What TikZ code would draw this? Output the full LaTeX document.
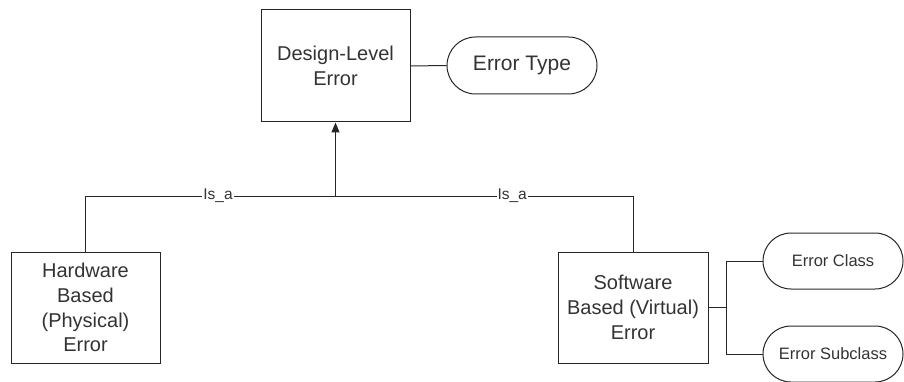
\documentclass[tikz,border=0pt]{standalone}
\usepackage{fontspec}
\setmainfont{Liberation Sans}
\usetikzlibrary{arrows.meta,shapes.misc}
\begin{document}
\begin{tikzpicture}[x=1pt,y=-1pt,
  line width=1pt, draw=black!85,
  box/.style={draw, rectangle, align=center, text=black!80, font=\fontsize{20}{24.7}\selectfont, inner sep=0pt},
  pill/.style={draw, rounded rectangle, align=center, text=black!80, inner sep=0pt},
  lbl/.style={fill=white, inner sep=1pt, text=black!80, font=\fontsize{15.5}{18}\selectfont}]
\useasboundingbox (0,0) rectangle (904,382);
\node[box, minimum width=149pt, minimum height=112pt] (dle) at (335.5,66) {Design-Level\\Error};
\node[pill, minimum width=150pt, minimum height=57pt, font=\fontsize{21}{24}\selectfont] (et) at (522,65.5) {Error Type};
\node[box, minimum width=149pt, minimum height=111pt] (hw) at (85.5,307.5) {Hardware\\Based\\(Physical)\\Error};
\node[box, minimum width=150pt, minimum height=111pt] (sw) at (633,307.5) {Software\\Based (Virtual)\\Error};
\node[pill, minimum width=140pt, minimum height=56pt, font=\fontsize{16.5}{20}\selectfont] (ec) at (833,261) {Error Class};
\node[pill, minimum width=140pt, minimum height=56pt, font=\fontsize{16.5}{20}\selectfont] (es) at (833,354) {Error Subclass};
\coordinate (j) at (335.5,196);
\coordinate (sj) at (726,307.5);
\draw (dle) -- (et);
\draw (hw.north) |- (j) node[lbl, pos=0.765] {Is\_a};
\draw (sw.north) |- (j) node[lbl, pos=0.703] {Is\_a};
\draw[-{Triangle[width=8pt,length=10pt]}] (j) -- (dle.south);
\draw (sw.east) -- (sj);
\draw (sj) |- (ec.west);
\draw (sj) |- (es.west);
\end{tikzpicture}
\end{document}
